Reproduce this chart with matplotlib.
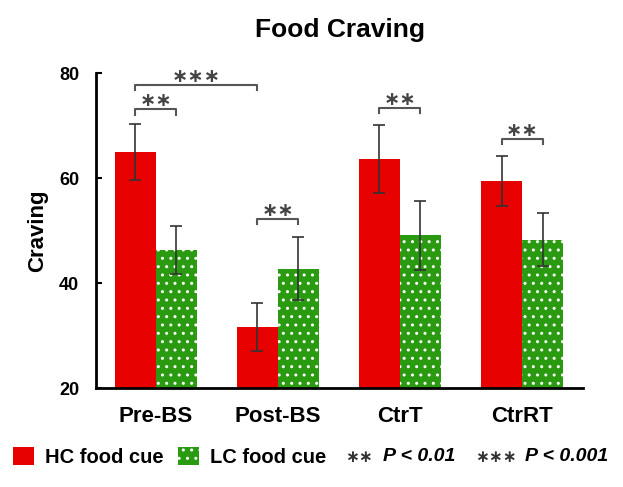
import matplotlib
matplotlib.use("Agg")
import matplotlib.pyplot as plt
import numpy as np
from matplotlib.patches import Patch

plt.rcParams['font.family'] = ['Liberation Sans', 'DejaVu Sans']
plt.rcParams['hatch.linewidth'] = 1.0

# data
groups = ['Pre-BS', 'Post-BS', 'CtrT', 'CtrRT']
hc_mean = [65.0, 31.6, 63.7, 59.4]
hc_err = [5.3, 4.6, 6.5, 4.8]
lc_mean = [46.3, 42.7, 49.1, 48.3]
lc_err = [4.5, 6.0, 6.6, 5.0]

# significance brackets: (x start, x end, height, label)
brk_start = [-0.168, 0.832, 1.832, 2.832, -0.168]
brk_end = [0.168, 1.168, 2.168, 3.168, 0.832]
brk_y = [73.1, 52.2, 73.3, 67.4, 77.7]
brk_label = ['∗∗', '∗∗', '∗∗', '∗∗', '∗∗∗']

red = '#e60000'
green = '#2a9a10'

fig = plt.figure(figsize=(6.23, 4.87), dpi=100)
ax = fig.add_axes([0.154, 0.203, 0.782, 0.647])

x = np.arange(len(groups))
w = 0.336
ax.bar(x - w / 2, hc_mean, w, color=red)
ax.bar(x + w / 2, lc_mean, w, color=green, edgecolor='white', linewidth=0, hatch='..')
ax.errorbar(x - w / 2, hc_mean, yerr=hc_err, fmt='none', ecolor='#333333', elinewidth=1.2, capsize=4, capthick=1.2)
ax.errorbar(x + w / 2, lc_mean, yerr=lc_err, fmt='none', ecolor='#333333', elinewidth=1.2, capsize=4, capthick=1.2)

leg = 1.0
for x0, x1, y, lab in zip(brk_start, brk_end, brk_y, brk_label):
    ax.plot([x0, x0, x1, x1], [y - leg, y, y, y - leg], color='#555555', lw=1.5, clip_on=False)
    ax.text((x0 + x1) / 2, y + 1.6, lab, ha='center', va='center', fontsize=14,
            family='DejaVu Sans', fontweight='bold', color='#444444')

ax.set_ylim(20, 80)
ax.set_xlim(-0.49, 3.5)
ax.set_yticks([20, 40, 60, 80])
ax.set_xticks(x)
ax.set_xticklabels(groups, fontsize=16, fontweight='bold')
ax.tick_params(axis='y', direction='in', length=4, width=1.5, labelsize=13, pad=12)
ax.tick_params(axis='x', length=0, pad=13)
for t in ax.get_yticklabels():
    t.set_fontweight('bold')
ax.set_ylabel('Craving', fontsize=16, fontweight='bold', labelpad=8)
for s in ['top', 'right']:
    ax.spines[s].set_visible(False)
for s in ['left', 'bottom']:
    ax.spines[s].set_linewidth(2)

ax.set_title('Food Craving', fontsize=19, fontweight='bold', pad=26)

# legend row
handles = [Patch(facecolor=red), Patch(facecolor=green, edgecolor='white', linewidth=0, hatch='..')]
fig.legend(handles, ['HC food cue', 'LC food cue'], loc='center left', bbox_to_anchor=(0.021, 0.062),
           ncol=2, frameon=False, prop={'size': 14.5, 'weight': 'bold'}, handlelength=1.05, handleheight=1.05,
           handletextpad=0.55, columnspacing=0.7, borderpad=0, borderaxespad=0)
fig.text(0.554, 0.062, '∗∗', ha='left', va='center', fontsize=12, family='DejaVu Sans',
         fontweight='bold', color='#333333')
fig.text(0.615, 0.062, 'P < 0.01', ha='left', va='center', fontsize=14, style='italic', fontweight='bold')
fig.text(0.762, 0.062, '∗∗∗', ha='left', va='center', fontsize=12, family='DejaVu Sans',
         fontweight='bold', color='#333333')
fig.text(0.843, 0.062, 'P < 0.001', ha='left', va='center', fontsize=14, style='italic', fontweight='bold')

fig.savefig('out.png', dpi=100)
